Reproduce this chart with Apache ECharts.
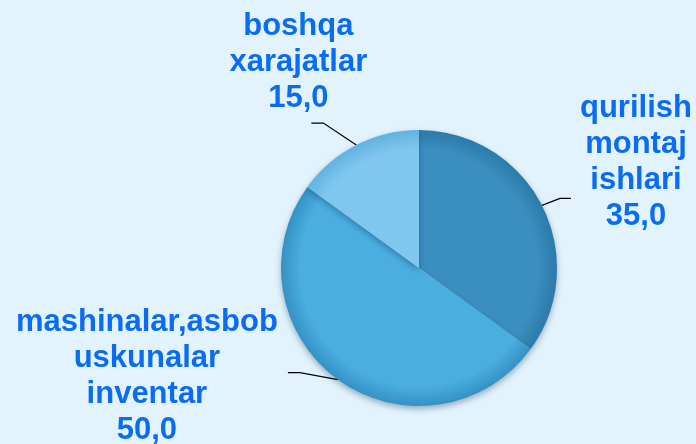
<!DOCTYPE html>
<html><head><meta charset="utf-8">
<script src="https://cdn.jsdelivr.net/npm/echarts@6/dist/echarts.min.js"></script>
<style>html,body{margin:0;padding:0;background:#e2f3fd}#c{width:696px;height:444px}</style>
</head><body><div id="c"></div>
<script>
const categories = ['qurilish\nmontaj\nishlari', 'mashinalar,asbob\nuskunalar\ninventar', 'boshqa\nxarajatlar'];
const values = [35.0, 50.0, 15.0];
const colors = ['#3b8ec0', '#4aaee0', '#80c7ef'];
const rimColors = ['#2c7aa8', '#3591c4', '#62b2e0'];

// style/layout settings (not data)
const CX = 419, CY = 268, R = 138;
const labelOffsets = [[94, -43], [-191, -3], [-58, -83]];
const lineBends = [[[18, -7], [11, 0]], [[-38, -7], [-12, 0]], [[-33, -22], [-12, 0]]];

function fmt(v) { return v.toFixed(1).replace('.', ','); }

const data = categories.map((name, i) => ({
  name: name,
  value: values[i],
  itemStyle: {
    color: {
      type: 'radial', x: CX, y: CY, r: R, global: true,
      colorStops: [
        { offset: 0, color: colors[i] },
        { offset: 0.86, color: colors[i] },
        { offset: 1, color: rimColors[i] }
      ]
    }
  }
}));

const chart = echarts.init(document.getElementById('c'));
chart.setOption({
  backgroundColor: '#e2f3fd',
  animation: false,
  series: [{
    type: 'pie',
    center: [CX, CY],
    radius: R,
    startAngle: 90,
    clockwise: true,
    avoidLabelOverlap: false,
    data: data,
    itemStyle: {
      borderWidth: 0,
      shadowBlur: 6,
      shadowOffsetY: 3,
      shadowColor: 'rgba(0,40,80,0.35)'
    },
    label: {
      show: true,
      position: 'outside',
      formatter: p => p.name + '\n' + fmt(p.value),
      color: '#0a6cf2',
      fontFamily: 'Liberation Sans, Arial, sans-serif',
      fontWeight: 'bold',
      fontSize: 31,
      lineHeight: 36
    },
    labelLine: {
      show: true,
      length: 20,
      length2: 12,
      lineStyle: { color: '#000', width: 1.2 }
    },
    labelLayout: function (params) {
      const i = params.dataIndex;
      const p0 = params.labelLinePoints[0];
      const b = lineBends[i];
      const p1 = [p0[0] + b[0][0], p0[1] + b[0][1]];
      const p2 = [p1[0] + b[1][0], p1[1] + b[1][1]];
      return {
        x: p0[0] + labelOffsets[i][0],
        y: p0[1] + labelOffsets[i][1],
        align: 'center',
        verticalAlign: 'middle',
        labelLinePoints: [p0, p1, p2]
      };
    }
  }]
});
</script>
</body></html>
